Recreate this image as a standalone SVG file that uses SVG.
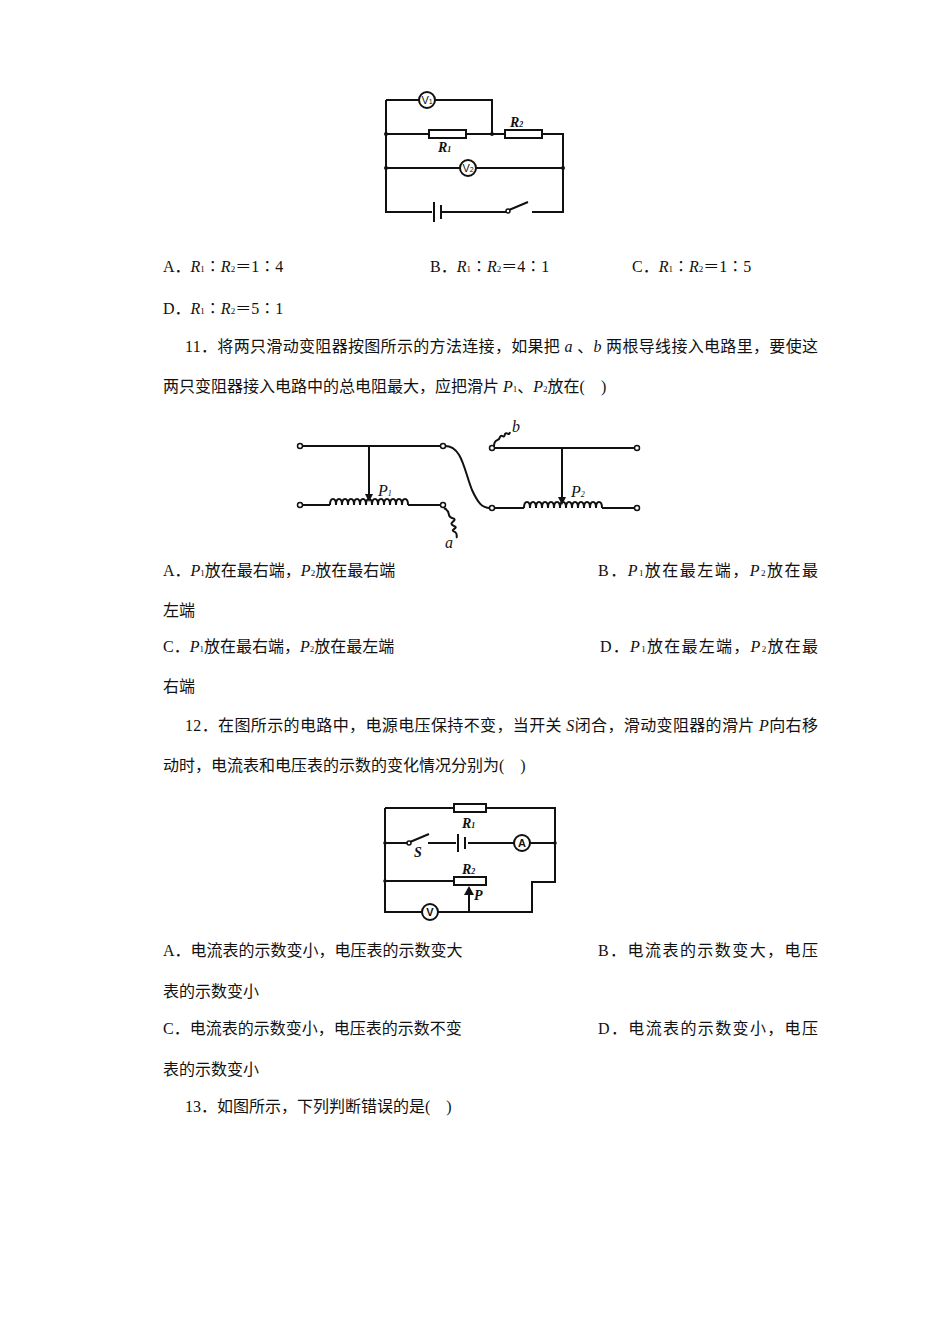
<svg xmlns="http://www.w3.org/2000/svg" width="950" height="1344" viewBox="0 0 950 1344">
<style>
.t{font-family:"Liberation Serif","Noto Sans CJK SC",serif;font-size:16px;fill:#111}
.i{font-style:italic}
.w{fill:none;stroke:#111;stroke-width:2}
.r{fill:#fff;stroke:#111;stroke-width:2}
.o{fill:#fff;stroke:#111;stroke-width:1.5}
.d{fill:#111}
.l{font-family:"Liberation Serif",serif;font-style:italic;font-weight:bold;font-size:14px;fill:#111}
.m{font-family:"Liberation Sans",sans-serif;font-size:11px;fill:#111;text-anchor:middle}
</style>
<rect width="950" height="1344" fill="#fff"/>
<g id="fig1">
<path class="w" d="M386 100H420M434 100H492V134M386 100V212H432M442 212H507M532 212H563V134H542M505 134H466M429 134H386M386 168H461M475 168H563"/>
<path class="w" d="M434 202V222" stroke-width="1.5"/><path class="w" d="M441 205V219" stroke-width="4"/>
<path class="w" d="M509 210L528 202" stroke-width="1.5"/><circle class="o" cx="508" cy="211" r="2"/>
<rect class="r" x="429" y="130" width="37" height="8"/><rect class="r" x="505" y="130" width="37" height="8"/>
<circle class="r" cx="427" cy="100" r="8"/><circle class="r" cx="468" cy="168" r="8"/>
<text class="m" x="427" y="104">V<tspan font-size="7">1</tspan></text><text class="m" x="468" y="172">V<tspan font-size="7">2</tspan></text>
<circle class="d" cx="386" cy="134" r="2"/><circle class="d" cx="492" cy="134" r="2"/><circle class="d" cx="386" cy="168" r="2"/><circle class="d" cx="563" cy="168" r="2"/>
<text class="l" x="438" y="152">R<tspan font-size="8">1</tspan></text><text class="l" x="510" y="127">R<tspan font-size="8">2</tspan></text>
</g>
<g id="fig2">
<path class="w" stroke-width="1.5" d="M302 446H441M302 505H330M408 505H441M445 446C462 446 464 470 472 490C478 503 482 508 490 508M494 508H524M602 508H635M494 448H635M369 446V494M562 448V497"/>
<path class="w" stroke-width="1.5" d="M330 505c0-8 6-8 6 0c0-8 6-8 6 0c0-8 6-8 6 0c0-8 6-8 6 0c0-8 6-8 6 0c0-8 6-8 6 0c0-8 6-8 6 0c0-8 6-8 6 0c0-8 6-8 6 0c0-8 6-8 6 0c0-8 6-8 6 0c0-8 6-8 6 0c0-8 6-8 6 0M524 508c0-8 6-8 6 0c0-8 6-8 6 0c0-8 6-8 6 0c0-8 6-8 6 0c0-8 6-8 6 0c0-8 6-8 6 0c0-8 6-8 6 0c0-8 6-8 6 0c0-8 6-8 6 0c0-8 6-8 6 0c0-8 6-8 6 0c0-8 6-8 6 0c0-8 6-8 6 0"/>
<path class="w" stroke-width="1.2" d="M444 508C452 512 446 516 452 518C460 520 446 523 454 526C460 528 448 530 455 532C458 534 456 536 457 538M494 446C494 438 499 442 500 437C502 433 504 440 505 434C507 431 509 437 510 432"/>
<path class="d" d="M365 494L373 494L369 502Z"/><path class="d" d="M558 497L566 497L562 505Z"/>
<circle class="o" cx="300" cy="446" r="2.5"/><circle class="o" cx="300" cy="505" r="2.5"/><circle class="o" cx="443" cy="446" r="2.5"/><circle class="o" cx="443" cy="505" r="2.5"/><circle class="o" cx="492" cy="508" r="2.5"/><circle class="o" cx="492" cy="448" r="2.5"/><circle class="o" cx="637" cy="448" r="2.5"/><circle class="o" cx="637" cy="508" r="2.5"/>
<text class="t i" x="378" y="496" font-size="12">P<tspan font-size="8">1</tspan></text><text class="t i" x="571" y="497" font-size="12">P<tspan font-size="8">2</tspan></text>
<text class="t i" x="445" y="548" font-size="12">a</text><text class="t i" x="512" y="432" font-size="12">b</text>
</g>
<g id="fig3">
<path class="w" d="M385 808H454M486 808H555V882H532V912H385V808M385 843H408M428 843H456M468 843H514M530 843H555M385 881H454"/>
<path class="w" d="M410 842L429 834" stroke-width="1.5"/><circle class="o" cx="409" cy="843" r="2"/>
<path class="w" d="M458 834V852" stroke-width="1.5"/><path class="w" d="M465 837V849" stroke-width="3"/>
<rect class="r" x="454" y="804" width="32" height="8"/><rect class="r" x="454" y="877" width="32" height="8"/>
<circle class="r" cx="522" cy="843" r="8"/><circle class="r" cx="430" cy="912" r="8"/>
<text class="m" x="522" y="847" font-weight="bold">A</text><text class="m" x="430" y="916" font-weight="bold">V</text>
<path class="w" d="M469 912V894" stroke-width="2"/><path class="d" d="M464 895L474 895L469 886Z"/>
<circle class="d" cx="385" cy="843" r="1.8"/><circle class="d" cx="555" cy="843" r="1.8"/><circle class="d" cx="385" cy="881" r="1.8"/>
<text class="l" x="462" y="828">R<tspan font-size="8">1</tspan></text><text class="l" x="462" y="874">R<tspan font-size="8">2</tspan></text>
<text class="l" x="414" y="857">S</text><text class="l" x="474" y="900">P</text>
</g>
<g id="text">
<text class="t" x="163" y="272">A．<tspan class="i">R</tspan><tspan font-size="9">1</tspan>∶<tspan class="i">R</tspan><tspan font-size="9">2</tspan>＝1∶4</text>
<text class="t" x="430" y="272">B．<tspan class="i">R</tspan><tspan font-size="9">1</tspan>∶<tspan class="i">R</tspan><tspan font-size="9">2</tspan>＝4∶1</text>
<text class="t" x="632" y="272">C．<tspan class="i">R</tspan><tspan font-size="9">1</tspan>∶<tspan class="i">R</tspan><tspan font-size="9">2</tspan>＝1∶5</text>
<text class="t" x="163" y="314">D．<tspan class="i">R</tspan><tspan font-size="9">1</tspan>∶<tspan class="i">R</tspan><tspan font-size="9">2</tspan>＝5∶1</text>
<text class="t" x="185" y="352" textLength="633" lengthAdjust="spacing">11．将两只滑动变阻器按图所示的方法连接，如果把 <tspan class="i">a</tspan> 、<tspan class="i">b</tspan> 两根导线接入电路里，要使这</text>
<text class="t" x="163" y="392">两只变阻器接入电路中的总电阻最大，应把滑片 <tspan class="i">P</tspan><tspan font-size="9">1</tspan>、<tspan class="i">P</tspan><tspan font-size="9">2</tspan>放在(　)</text>
<text class="t" x="163" y="576">A．<tspan class="i">P</tspan><tspan font-size="9">1</tspan>放在最右端，<tspan class="i">P</tspan><tspan font-size="9">2</tspan>放在最右端</text>
<text class="t" x="598" y="576" textLength="220" lengthAdjust="spacing">B．<tspan class="i">P</tspan><tspan font-size="9">1</tspan>放在最左端，<tspan class="i">P</tspan><tspan font-size="9">2</tspan>放在最</text>
<text class="t" x="163" y="616">左端</text>
<text class="t" x="163" y="652">C．<tspan class="i">P</tspan><tspan font-size="9">1</tspan>放在最右端，<tspan class="i">P</tspan><tspan font-size="9">2</tspan>放在最左端</text>
<text class="t" x="600" y="652" textLength="218" lengthAdjust="spacing">D．<tspan class="i">P</tspan><tspan font-size="9">1</tspan>放在最左端，<tspan class="i">P</tspan><tspan font-size="9">2</tspan>放在最</text>
<text class="t" x="163" y="692">右端</text>
<text class="t" x="185" y="731" textLength="633" lengthAdjust="spacing">12．在图所示的电路中，电源电压保持不变，当开关 <tspan class="i">S</tspan>闭合，滑动变阻器的滑片 <tspan class="i">P</tspan>向右移</text>
<text class="t" x="163" y="771">动时，电流表和电压表的示数的变化情况分别为(　)</text>
<text class="t" x="163" y="956">A．电流表的示数变小，电压表的示数变大</text>
<text class="t" x="598" y="956" textLength="220" lengthAdjust="spacing">B．电流表的示数变大，电压</text>
<text class="t" x="163" y="997">表的示数变小</text>
<text class="t" x="163" y="1034">C．电流表的示数变小，电压表的示数不变</text>
<text class="t" x="598" y="1034" textLength="220" lengthAdjust="spacing">D．电流表的示数变小，电压</text>
<text class="t" x="163" y="1075">表的示数变小</text>
<text class="t" x="185" y="1112">13．如图所示，下列判断错误的是(　)</text>
</g>
</svg>
